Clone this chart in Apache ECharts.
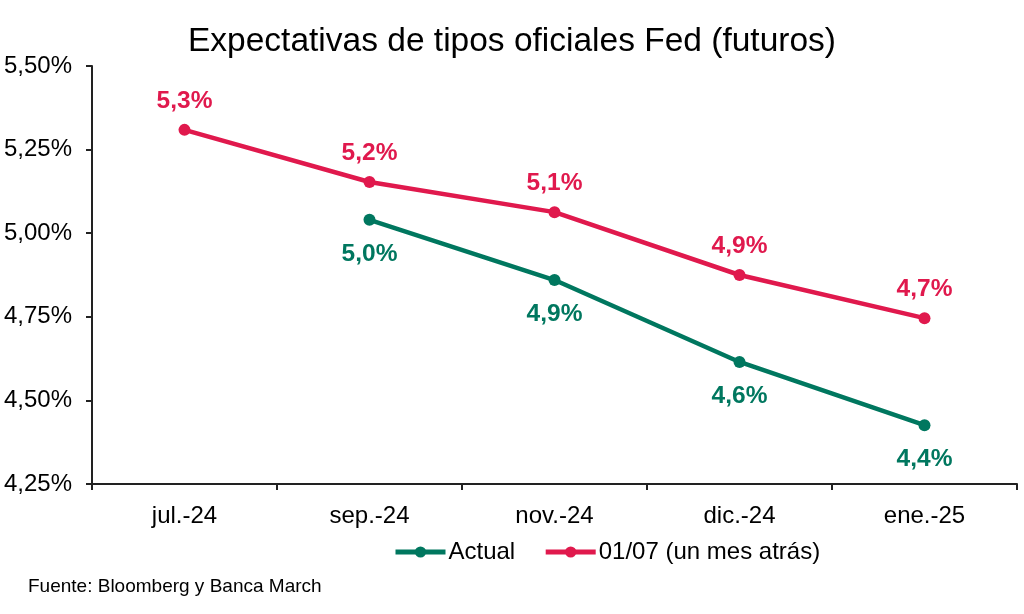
<!DOCTYPE html>
<html><head><meta charset="utf-8">
<script src="https://cdn.jsdelivr.net/npm/echarts@6/dist/echarts.min.js"></script>
<style>html,body{margin:0;padding:0;background:#fff}#c{width:1024px;height:614px}</style>
</head><body><div id="c"></div>
<script>
const categories = ['jul.-24','sep.-24','nov.-24','dic.-24','ene.-25'];
const actual = [null, 5.04, 4.86, 4.615, 4.426];
const monthAgo = [5.309, 5.153, 5.063, 4.875, 4.746];
const yTicks = [4.25, 4.50, 4.75, 5.00, 5.25, 5.50];
const FONT = '"Liberation Sans", Arial, sans-serif';
const RED = '#E0194D', GREEN = '#00775F';
const fmtLabel = p => p.value == null ? '' : p.value.toFixed(1).replace('.', ',') + '%';
const chart = echarts.init(document.getElementById('c'));
chart.setOption({
  animation: false,
  title: { text: 'Expectativas de tipos oficiales Fed (futuros)', left: 'center', top: 20,
    textStyle: { fontFamily: FONT, fontSize: 33.5, fontWeight: 'normal', color: '#000' } },
  grid: { left: 92, right: 7, top: 66, bottom: 130 },
  legend: { top: 535, left: 388, itemWidth: 50, itemHeight: 14, itemGap: 28,
    lineStyle: { width: 5 },
    textStyle: { fontFamily: FONT, fontSize: 24, color: '#000', padding: [0, 0, 0, -2] },
    data: ['Actual', '01/07 (un mes atrás)'] },
  graphic: [{ type: 'text', left: 28, top: 577,
    style: { text: 'Fuente: Bloomberg y Banca March', font: '19px ' + FONT, fill: '#000' } }],
  xAxis: { type: 'category', data: categories, boundaryGap: true,
    axisLine: { lineStyle: { color: '#222', width: 2 } },
    axisTick: { show: true, length: 6, lineStyle: { color: '#222', width: 2 } },
    axisLabel: { fontFamily: FONT, fontSize: 24, color: '#000', margin: 20 } },
  yAxis: { type: 'value', min: 4.25, max: 5.50, interval: 0.25,
    axisLine: { show: true, lineStyle: { color: '#222', width: 2 } },
    axisTick: { show: true, length: 6, lineStyle: { color: '#222', width: 2 } },
    splitLine: { show: false },
    axisLabel: { fontFamily: FONT, fontSize: 24, color: '#000', margin: 20,
      formatter: v => v.toFixed(2).replace('.', ',') + '%' } },
  series: [
    { name: 'Actual', type: 'line', data: actual, color: GREEN, symbol: 'circle', symbolSize: 12,
      lineStyle: { width: 4.5 }, connectNulls: false,
      label: { show: true, position: 'bottom', distance: 16, formatter: fmtLabel,
        fontFamily: FONT, fontSize: 24.5, fontWeight: 'bold', color: GREEN } },
    { name: '01/07 (un mes atrás)', type: 'line', data: monthAgo, color: RED, symbol: 'circle', symbolSize: 12,
      lineStyle: { width: 4.5 },
      label: { show: true, position: 'top', distance: 10, formatter: fmtLabel,
        fontFamily: FONT, fontSize: 24.5, fontWeight: 'bold', color: RED } }
  ]
});
</script></body></html>
